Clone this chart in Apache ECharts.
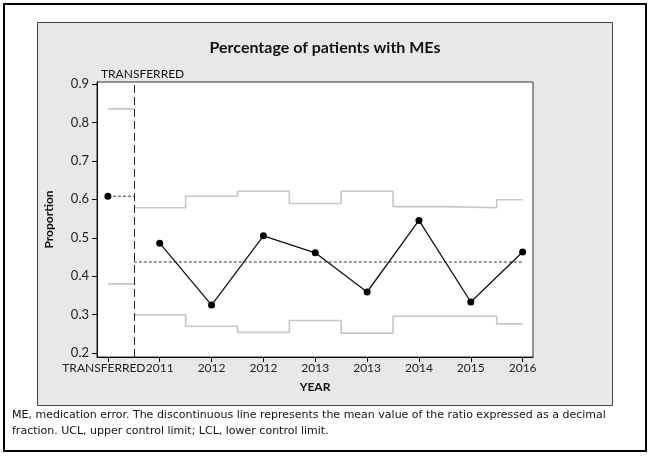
<!DOCTYPE html>
<html>
<head>
<meta charset="utf-8">
<script src="https://cdn.jsdelivr.net/npm/echarts@6/dist/echarts.min.js"></script>
<style>html,body{margin:0;padding:0;background:#fff;}#chart{width:650px;height:458px;}</style>
</head>
<body>
<div id="chart"></div>
<script>
// ---- data ----
var categories = ['TRANSFERRED', '2011', '2012', '2012', '2013', '2013', '2014', '2015', '2016'];
var proportion = [0.608, 0.486, 0.325, 0.505, 0.461, 0.359, 0.545, 0.333, 0.463];
var ucl = [0.835, 0.578, 0.608, 0.621, 0.589, 0.621, 0.581, 0.578, 0.599];
var lcl = [0.380, 0.300, 0.270, 0.254, 0.285, 0.252, 0.296, 0.296, 0.276];
var stageOfPoint = [1, 2, 2, 2, 2, 2, 2, 2, 2];
var centerByStage = {1: 0.608, 2: 0.437};
var yTicks = [0.2, 0.3, 0.4, 0.5, 0.6, 0.7, 0.8, 0.9];
var titleText = 'Percentage of patients with MEs';
var footnote = [
  'ME, medication error. The discontinuous line represents the mean value of the ratio expressed as a decimal',
  'fraction. UCL, upper control limit; LCL, lower control limit.'
];

var FONT = 'Lato';
var NOTE_FONT = 'DejaVu Sans';

function idxOfStage(s) {
  var r = [];
  for (var i = 0; i < stageOfPoint.length; i++) if (stageOfPoint[i] === s) r.push(i);
  return r;
}
var s1 = idxOfStage(1), s2 = idxOfStage(2);
var divider = (s1[s1.length - 1] + s2[0]) / 2;

function stepLine(arr, idx) {
  var pts = [];
  for (var k = 0; k < idx.length; k++) {
    var i = idx[k];
    var x0 = (k === 0) ? (i > 0 ? Math.max(i - 0.5, divider) : i) : i - 0.5;
    var x1 = (k === idx.length - 1) ? (i === categories.length - 1 ? i : Math.min(i + 0.5, divider)) : i + 0.5;
    pts.push([x0, arr[i]]);
    pts.push([x1, arr[i]]);
  }
  return pts;
}
function centerLine(stage, idx) {
  var first = idx[0], last = idx[idx.length - 1];
  var x0 = first === 0 ? 0 : divider;
  var x1 = last === categories.length - 1 ? last : divider;
  return [[x0, centerByStage[stage]], [x1, centerByStage[stage]]];
}
function pointsOf(idx) {
  return idx.map(function (i) { return [i, proportion[i]]; });
}

var limitStyle = {color: '#c6c6c6', width: 1.6};
var centerStyle = {color: '#333', width: 1, type: [3, 2]};

var chart = echarts.init(document.getElementById('chart'), null, {renderer: 'canvas'});
// label order: years first, the stage-1 label last, so the min/max neighbour check never drops a label
var tickIdx = categories.map(function (c, i) { return i; });
var labelIdx = tickIdx.slice(1).concat([0]);

chart.setOption({
  animation: false,
  backgroundColor: '#fff',
  title: [
    {text: titleText, left: 'center', top: 40, padding: 0,
      textStyle: {fontFamily: FONT, fontSize: 16, fontWeight: 'bold', color: '#111'}},
    {text: 'TRANSFERRED', left: 101, top: 68, padding: 0,
      textStyle: {fontFamily: FONT, fontSize: 12, fontWeight: 'normal', color: '#111'}}
  ],
  graphic: [
    {type: 'rect', z: -20, silent: true, shape: {x: 4, y: 4, width: 642, height: 447},
      style: {fill: '#fff', stroke: '#000', lineWidth: 2}},
    {type: 'rect', z: -10, silent: true, shape: {x: 37.5, y: 22.5, width: 575, height: 383},
      style: {fill: '#e8e8e8', stroke: '#444', lineWidth: 1}},
    {type: 'text', z: 10, silent: true, style: {text: footnote[0], x: 12, y: 415, fill: '#111',
      font: '11px "' + NOTE_FONT + '"', verticalAlign: 'middle'}},
    {type: 'text', z: 10, silent: true, style: {text: footnote[1], x: 12, y: 431, fill: '#111',
      font: '11px "' + NOTE_FONT + '"', verticalAlign: 'middle'}}
  ],
  grid: {left: 97, right: 117, top: 82, bottom: 101, show: true, backgroundColor: '#fff',
    borderColor: '#333', borderWidth: 1},
  xAxis: {
    type: 'value', min: -0.21, max: 8.2,
    name: 'YEAR', nameLocation: 'middle', nameGap: 24,
    nameTextStyle: {fontFamily: FONT, fontSize: 12, fontWeight: 'bold', color: '#111'},
    axisLine: {show: true, onZero: false, lineStyle: {color: '#000', width: 1}},
    axisTick: {show: true, length: 5, customValues: tickIdx, lineStyle: {color: '#000'}},
    axisLabel: {customValues: labelIdx, margin: 5, fontFamily: FONT, fontSize: 12, color: '#222',
      hideOverlap: false,
      formatter: function (v) {
        var i = Math.round(v);
        return i === 0 ? '{t|' + categories[i] + '}' : categories[i];
      },
      rich: {t: {fontFamily: FONT, fontSize: 12, color: '#222', padding: [0, 8, 0, 0]}}},
    splitLine: {show: false}
  },
  yAxis: {
    type: 'value', min: 0.19, max: 0.905,
    name: 'Proportion', nameLocation: 'middle', nameGap: 42, nameRotate: 90,
    nameTextStyle: {fontFamily: FONT, fontSize: 12, fontWeight: 'bold', color: '#111'},
    axisLine: {show: true, onZero: false, lineStyle: {color: '#000', width: 1}},
    axisTick: {show: true, length: 5, customValues: yTicks, lineStyle: {color: '#000'}},
    axisLabel: {customValues: yTicks, margin: 8, fontFamily: FONT, fontSize: 13, color: '#222',
      formatter: function (v) { return v.toFixed(1); }},
    splitLine: {show: false}
  },
  series: [
    {type: 'line', name: 'UCL1', data: stepLine(ucl, s1), symbol: 'none', lineStyle: limitStyle, z: 2},
    {type: 'line', name: 'LCL1', data: stepLine(lcl, s1), symbol: 'none', lineStyle: limitStyle, z: 2},
    {type: 'line', name: 'UCL2', data: stepLine(ucl, s2), symbol: 'none', lineStyle: limitStyle, z: 2},
    {type: 'line', name: 'LCL2', data: stepLine(lcl, s2), symbol: 'none', lineStyle: limitStyle, z: 2},
    {type: 'line', name: 'CL1', data: centerLine(1, s1), symbol: 'none', lineStyle: centerStyle, z: 3},
    {type: 'line', name: 'CL2', data: centerLine(2, s2), symbol: 'none', lineStyle: centerStyle, z: 3,
      markLine: {silent: true, symbol: 'none', label: {show: false},
        lineStyle: {color: '#222', width: 1, type: [8, 4]},
        data: [{xAxis: divider}]}},
    {type: 'line', name: 'P1', data: pointsOf(s1), symbol: 'circle', symbolSize: 7,
      itemStyle: {color: '#000'}, lineStyle: {color: '#000', width: 1.2}, z: 5},
    {type: 'line', name: 'P2', data: pointsOf(s2), symbol: 'circle', symbolSize: 7,
      itemStyle: {color: '#000'}, lineStyle: {color: '#111', width: 1.3}, z: 5}
  ]
});
</script>
</body>
</html>
